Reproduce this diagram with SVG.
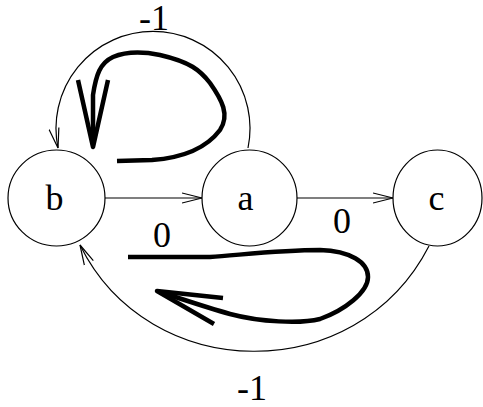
<svg xmlns="http://www.w3.org/2000/svg" width="483" height="407" viewBox="0 0 483 407">
<style>
.node{fill:#fff;stroke:#000;stroke-width:1.2}
.lbl{font-family:"Liberation Serif","Times New Roman",serif;font-size:36px;fill:#000;text-anchor:middle}
.edge{fill:none;stroke:#000;stroke-width:1.2}
.thick{fill:none;stroke:#000;stroke-width:4.5;stroke-linejoin:round}
</style>
<defs>
<marker id="open" markerUnits="userSpaceOnUse" markerWidth="24" markerHeight="14" refX="20" refY="6" orient="auto" viewBox="0 0 24 12">
<path d="M0,1 L20,6 L0,11" fill="none" stroke="#000" stroke-width="1.2"/>
</marker>
</defs>
<g id="connectors">
<path class="edge" d="M105,198 L202,198" marker-end="url(#open)"/>
<path class="edge" d="M297,198 L393,198" marker-end="url(#open)"/>
<path class="edge" d="M248,148 A97,97 0 1 0 58,148" marker-end="url(#open)"/>
<path class="edge" d="M429,246 C356,388 149,385 80,245" marker-end="url(#open)"/>
<text class="lbl" x="154" y="30">-1</text>
<text class="lbl" x="162" y="247">0</text>
<text class="lbl" x="342" y="233">0</text>
<text class="lbl" x="252" y="400">-1</text>
</g>
<g id="thick-arrows">
<path class="thick" d="M117,161 L152,160 C180,158 205,150 220,130 C230,115 222,100 210,83 C200,70 190,62 160,55 C140,51 125,52 113,57 C100,63 96,75 93,95 L93,140"/>
<path class="thick" d="M78,80 L93,147 L108,80"/>
<path class="thick" d="M128,257 L210,257 C240,255 280,250 320,250 C350,251 368,262 368,277 C368,292 345,310 320,319 C300,324 260,322 230,314 C205,307 185,300 160,292"/>
<path class="thick" d="M223,298 L157,291 L214,324"/>
</g>
<g id="node-b"><ellipse class="node" cx="56.5" cy="198" rx="48.5" ry="48"/><text class="lbl" x="54.5" y="210">b</text></g>
<g id="node-a"><ellipse class="node" cx="249.5" cy="198" rx="47.5" ry="48"/><text class="lbl" x="245.5" y="210">a</text></g>
<g id="node-c"><ellipse class="node" cx="437.5" cy="198" rx="44.5" ry="48"/><text class="lbl" x="436.5" y="210">c</text></g>
</svg>
